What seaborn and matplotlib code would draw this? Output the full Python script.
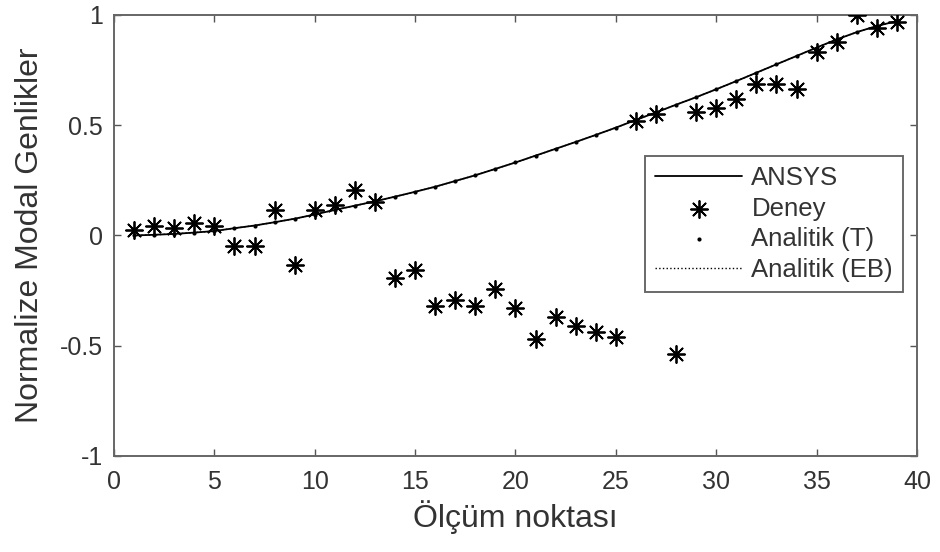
import matplotlib
matplotlib.use('Agg')

import matplotlib.pyplot as plt
import seaborn as sns
import pandas as pd

# olcum noktalari
noktalar = list(range(1, 40))

# deney verisi (yildizlar)
deney = [0.027, 0.045, 0.035, 0.058, 0.045, -0.048, -0.048, 0.115, -0.135, 0.115,
         0.136, 0.206, 0.153, -0.192, -0.155, -0.318, -0.291, -0.321, -0.242, -0.329,
         -0.468, -0.370, -0.409, -0.438, -0.461, 0.520, 0.550, -0.536, 0.558, 0.576,
         0.621, 0.686, 0.686, 0.664, 0.830, 0.879, 1.000, 0.939, 0.970]

# ANSYS / analitik egri
ansys = [0.000, 0.003, 0.007, 0.013, 0.020, 0.033, 0.045, 0.060, 0.076, 0.095,
         0.116, 0.135, 0.155, 0.176, 0.198, 0.221, 0.247, 0.273, 0.302, 0.331,
         0.362, 0.393, 0.424, 0.456, 0.489, 0.524, 0.558, 0.593, 0.627, 0.663,
         0.700, 0.738, 0.776, 0.814, 0.852, 0.889, 0.922, 0.950, 0.972]
analitik_t = ansys
analitik_eb = ansys

x_ticks = [0, 5, 10, 15, 20, 25, 30, 35, 40]
y_ticks = [-1, -0.5, 0, 0.5, 1]
y_tick_labels = ['-1', '-0.5', '0', '0.5', '1']

df = pd.DataFrame({'nokta': noktalar, 'deney': deney, 'ansys': ansys,
                   'analitik_t': analitik_t, 'analitik_eb': analitik_eb})

sns.set_style('white')
plt.rcParams['font.family'] = ['Liberation Sans', 'DejaVu Sans']

fig = plt.figure(figsize=(9.4, 5.52), dpi=100)
ax = fig.add_axes([0.1213, 0.174, 0.8542, 0.7989])

sns.lineplot(data=df, x='nokta', y='ansys', color='black', linewidth=1.3, ax=ax, label='ANSYS')
sns.scatterplot(data=df, x='nokta', y='deney', color='black', marker=(8, 2, 0),
                s=150, linewidth=1.3, ax=ax, label='Deney', zorder=3)
sns.scatterplot(data=df, x='nokta', y='analitik_t', color='black', marker='o',
                s=9, linewidth=0, ax=ax, label='Analitik (T)', zorder=4)
sns.lineplot(data=df, x='nokta', y='analitik_eb', color='black', linestyle=':',
             linewidth=1.0, ax=ax, label='Analitik (EB)')

ax.set_xlim(0, 40)
ax.set_ylim(-1, 1)
ax.set_xticks(x_ticks)
ax.set_yticks(y_ticks)
ax.set_yticklabels(y_tick_labels)
ax.tick_params(direction='in', length=5, width=1, colors='#555555',
               labelcolor='#333333', labelsize=18, top=True, right=True,
               bottom=True, left=True)
ax.tick_params(axis='x', pad=10)
ax.tick_params(axis='y', pad=8)
for s in ax.spines.values():
    s.set_color('#666666')
    s.set_linewidth(1.4)

ax.set_xlabel('Ölçüm noktası', fontsize=23, color='#333333')
ax.set_ylabel('Normalize Modal Genlikler', fontsize=23, color='#333333')
ax.xaxis.set_label_coords(0.5, -0.100)
ax.yaxis.set_label_coords(-0.086, 0.5)

handles, labels = ax.get_legend_handles_labels()
leg = ax.legend(handles, labels, loc='upper left', bbox_to_anchor=(0.661, 0.680),
                borderaxespad=0, fontsize=18.5, frameon=True, fancybox=False,
                handlelength=3.4, borderpad=0.4, labelspacing=0.25, handletextpad=0.35)
leg.get_frame().set_edgecolor('#444444')
leg.get_frame().set_linewidth(1.4)
for t in leg.get_texts():
    t.set_color('#333333')

fig.savefig('out.png', dpi=100)
